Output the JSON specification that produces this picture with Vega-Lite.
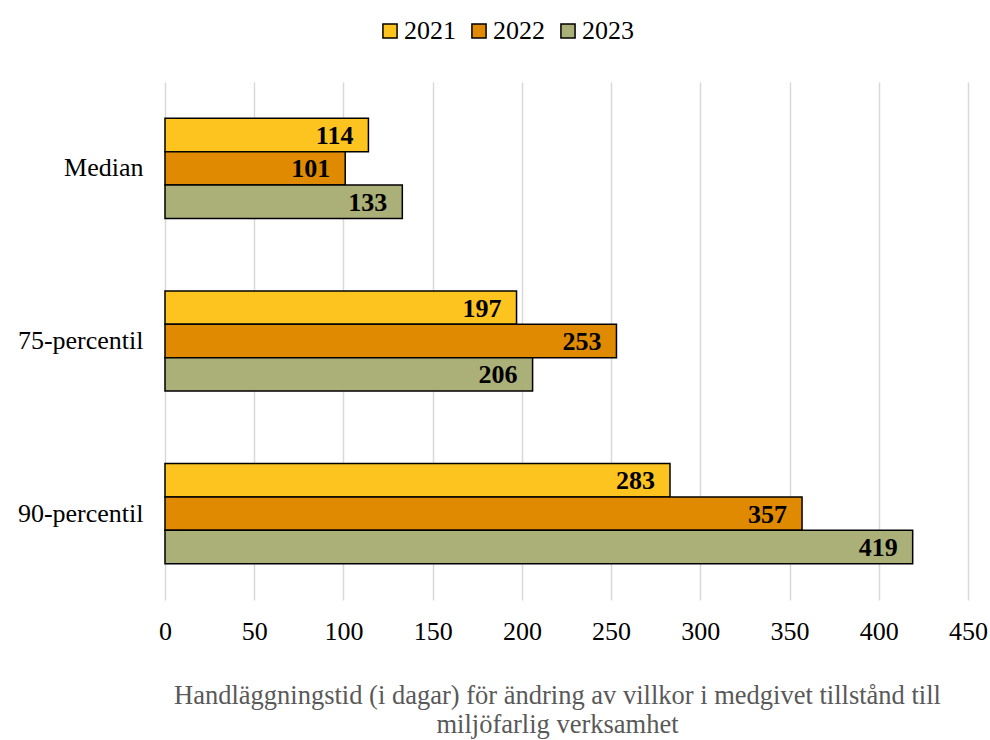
{
  "$schema": "https://vega.github.io/schema/vega-lite/v6.json",
  "width": 803,
  "height": 518,
  "autosize": {"type": "none"},
  "padding": {"left": 165, "top": 82, "right": 22, "bottom": 140},
  "background": "white",
  "config": {
    "font": "Liberation Serif",
    "view": {"stroke": null}
  },
  "data": {
    "values": [
      {"kategori": "Median", "ar": "2021", "dagar": 114},
      {"kategori": "Median", "ar": "2022", "dagar": 101},
      {"kategori": "Median", "ar": "2023", "dagar": 133},
      {"kategori": "75-percentil", "ar": "2021", "dagar": 197},
      {"kategori": "75-percentil", "ar": "2022", "dagar": 253},
      {"kategori": "75-percentil", "ar": "2023", "dagar": 206},
      {"kategori": "90-percentil", "ar": "2021", "dagar": 283},
      {"kategori": "90-percentil", "ar": "2022", "dagar": 357},
      {"kategori": "90-percentil", "ar": "2023", "dagar": 419}
    ]
  },
  "encoding": {
    "y": {
      "field": "kategori",
      "type": "nominal",
      "sort": ["Median", "75-percentil", "90-percentil"],
      "scale": {"paddingInner": 0.42, "paddingOuter": 0.21},
      "axis": {
        "title": null,
        "domain": false,
        "ticks": false,
        "labelFont": "Liberation Serif",
        "labelFontSize": 26,
        "labelColor": "#000000",
        "labelPadding": 22
      }
    },
    "yOffset": {"field": "ar", "type": "nominal", "sort": ["2021", "2022", "2023"]},
    "x": {
      "field": "dagar",
      "type": "quantitative",
      "scale": {"domain": [0, 450], "nice": false},
      "axis": {
        "values": [0, 50, 100, 150, 200, 250, 300, 350, 400, 450],
        "domain": false,
        "ticks": false,
        "grid": true,
        "gridColor": "#d9d9d9",
        "gridWidth": 1.5,
        "labelFlush": false,
        "labelFont": "Liberation Serif",
        "labelFontSize": 26,
        "labelColor": "#000000",
        "labelPadding": 18,
        "title": ["Handläggningstid (i dagar) för ändring av villkor i medgivet tillstånd till", "miljöfarlig verksamhet"],
        "titleFont": "Liberation Serif",
        "titleFontSize": 26.5,
        "titleFontWeight": "normal",
        "titleColor": "#595959",
        "titlePadding": 38,
        "titleLineHeight": 29,
        "titleX": 392
      }
    }
  },
  "layer": [
    {
      "mark": {"type": "bar", "stroke": "#000000", "strokeWidth": 1.5},
      "encoding": {
        "color": {
          "field": "ar",
          "type": "nominal",
          "scale": {"domain": ["2021", "2022", "2023"], "range": ["#FDC41F", "#DF8A00", "#ABAF78"]},
          "legend": {
            "title": null,
            "orient": "none",
            "legendX": 212,
            "legendY": -64,
            "direction": "horizontal",
            "symbolType": "square",
            "symbolSize": 200,
            "symbolStrokeColor": "#000000",
            "symbolStrokeWidth": 1.5,
            "symbolOpacity": 1,
            "labelFont": "Liberation Serif",
            "labelFontSize": 26,
            "labelColor": "#000000",
            "labelOffset": 1,
            "columnPadding": 10
          }
        }
      }
    },
    {
      "mark": {"type": "text", "align": "right", "baseline": "middle", "dx": -15, "dy": 1, "fontSize": 26, "fontWeight": "bold", "font": "Liberation Serif", "color": "#000000"},
      "encoding": {
        "text": {"field": "dagar", "type": "quantitative"}
      }
    }
  ]
}
